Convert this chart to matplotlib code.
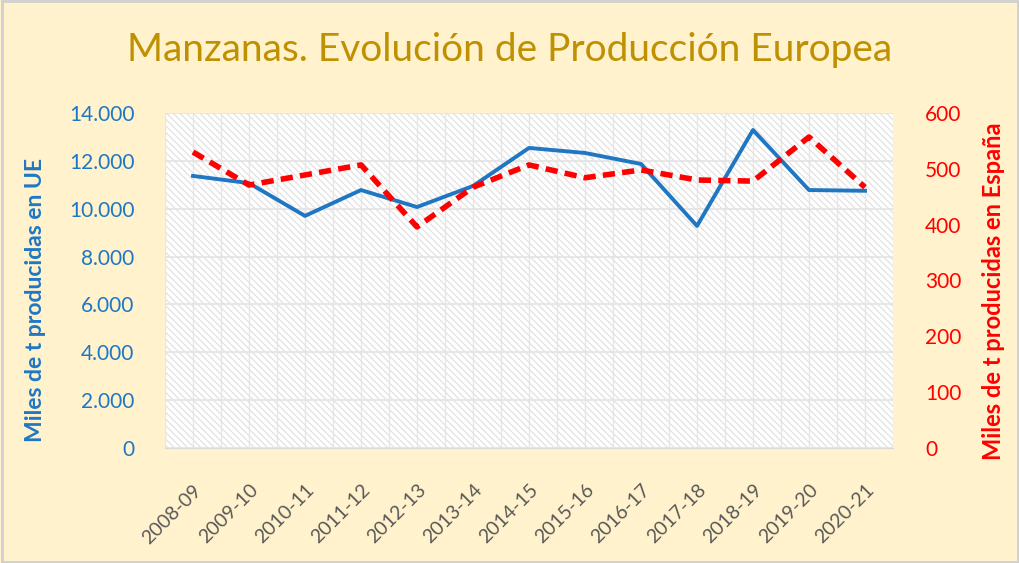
import matplotlib.pyplot as plt
import matplotlib.ticker as mticker
from matplotlib.patches import Rectangle

# campañas
campanas = ['2008-09', '2009-10', '2010-11', '2011-12', '2012-13', '2013-14', '2014-15',
            '2015-16', '2016-17', '2017-18', '2018-19', '2019-20', '2020-21']
# miles de t, UE (eje izquierdo)
prod_ue = [11370, 11070, 9700, 10780, 10070, 10950, 12540, 12330, 11870, 9280, 13290, 10780, 10750]
# miles de t, España (eje derecho)
prod_es = [530, 471, 489, 507, 396, 467, 507, 484, 498, 480, 478, 557, 467]

BG = '#FFF2CC'
BLUE = '#1F77C4'
RED = '#FF0000'
GOLD = '#BF9000'

plt.rcParams['font.family'] = ['Lato', 'DejaVu Sans']
plt.rcParams['hatch.color'] = '#E2E2E2'
plt.rcParams['hatch.linewidth'] = 0.9

fig = plt.figure(figsize=(10.2, 5.63), dpi=100, facecolor=BG)
fig.patches.append(Rectangle((0.002, 0.002), 0.996, 0.996, transform=fig.transFigure,
                             fill=False, edgecolor='#D0D0D0', linewidth=2))
ax = fig.add_axes([165 / 1020, 1 - 448 / 563, 728 / 1020, 335 / 563])
ax.set_facecolor('white')
ax.add_patch(Rectangle((0, 0), 1, 1, transform=ax.transAxes, facecolor='none',
                       edgecolor='#E2E2E2', hatch='\\\\\\\\\\', linewidth=0, zorder=0))

x = list(range(len(campanas)))
ax.plot(x, prod_ue, color=BLUE, linewidth=2.8, zorder=3)
ax.set_xlim(-0.5, len(campanas) - 0.5)
ax.set_ylim(0, 14000)
ax.yaxis.set_major_locator(mticker.MultipleLocator(2000))
ax.yaxis.set_major_formatter(mticker.FuncFormatter(lambda v, p: f'{int(v):,}'.replace(',', '.')))
ax.set_xticks(x)
ax.set_xticklabels(campanas, rotation=45, ha='right', rotation_mode='anchor',
                   color='#595959', fontsize=14)
ax.tick_params(axis='y', colors=BLUE, labelsize=15, length=0, pad=22)
ax.tick_params(axis='x', length=0, pad=24)
for xv in [i * 0.5 - 0.5 for i in range(2 * len(campanas) + 1)]:
    ax.axvline(xv, color='#E6E6E6', linewidth=1, zorder=1)
ax.grid(axis='y', color='#E3E3E3', linewidth=1.2, zorder=1)
for s in ax.spines.values():
    s.set_visible(False)
ax.spines['bottom'].set_visible(True)
ax.spines['bottom'].set_color('#D9D9D9')
ax.set_ylabel('Miles de t producidas en UE', color=BLUE, fontsize=16.5, fontweight='bold')
ax.yaxis.set_label_coords(-119 / 728, (448 - 300) / 335)

ax2 = ax.twinx()
ax2.plot(x, prod_es, color=RED, linewidth=4, linestyle=(0, (2.2, 1.3)), zorder=3)
ax2.set_ylim(0, 600)
ax2.yaxis.set_major_locator(mticker.MultipleLocator(100))
ax2.tick_params(axis='y', colors=RED, labelsize=15, length=0, pad=23)
for s in ax2.spines.values():
    s.set_visible(False)
ax2.set_ylabel('Miles de t producidas en España', color=RED, fontsize=17, fontweight='bold')
ax2.yaxis.set_label_coords((982 - 165) / 728, (448 - 291) / 335)

fig.text(0.5, 1 - 50 / 563, 'Manzanas. Evolución de Producción Europea', color=GOLD,
         fontsize=28, ha='center', va='center')

fig.savefig('out.png', dpi=100, facecolor=BG)
